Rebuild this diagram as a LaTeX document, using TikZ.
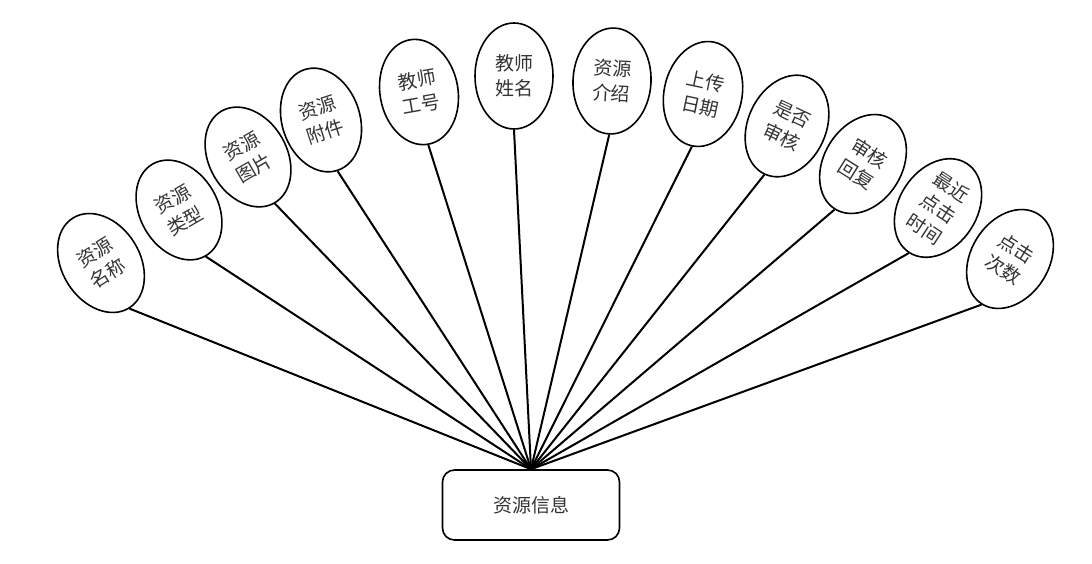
\documentclass[tikz,border=0pt]{standalone}
\usepackage{fontspec}
\newfontfamily\cjk{Noto Sans CJK SC}
\usetikzlibrary{shapes.geometric, positioning}

\begin{document}
\begin{tikzpicture}[
    x=1pt, y=-1pt,
    % Styles
    attr/.style={ellipse, draw, line width=1.6pt, inner sep=0pt, minimum width=78pt, minimum height=106pt, align=center, font=\cjk\fontsize{19}{25}\selectfont, text=black!80},
    entity/.style={rectangle, draw, line width=1.6pt, rounded corners=12pt, minimum width=177pt, minimum height=70pt, font=\cjk\fontsize{19}{23}\selectfont, text=black!80},
    link/.style={line width=2pt},
]
\useasboundingbox (0,0) rectangle (1092,564);

% === Entity ===
\node[entity] (info) at (531,505) {资源信息};

% === Attributes (left to right) ===
\node[attr, rotate=32] (name) at (101,263) {资源\\名称};
\node[attr, rotate=30] (type) at (179,210) {资源\\类型};
\node[attr, rotate=30] (pic) at (248,157) {资源\\图片};
\node[attr, rotate=18] (file) at (321,120) {资源\\附件};
\node[attr, rotate=10] (tid) at (419,92) {教师\\工号};
\node[attr] (tname) at (514,76) {教师\\姓名};
\node[attr, rotate=-3] (intro) at (612,81) {资源\\介绍};
\node[attr, rotate=-12] (date) at (703,94) {上传\\日期};
\node[attr, rotate=-25] (audit) at (787,126) {是否\\审核};
\node[attr, rotate=-32] (reply) at (863,164) {审核\\回复};
\node[attr, rotate=-33] (last) at (938,208) {最近\\点击\\时间};
\node[attr, rotate=-32] (clicks) at (1010,259) {点击\\次数};

% Links to entity
\foreach \a in {name,type,pic,file,tid,tname,intro,date,audit,reply,last,clicks}
    \draw[link] (info.north) -- (\a.south);

\end{tikzpicture}
\end{document}
